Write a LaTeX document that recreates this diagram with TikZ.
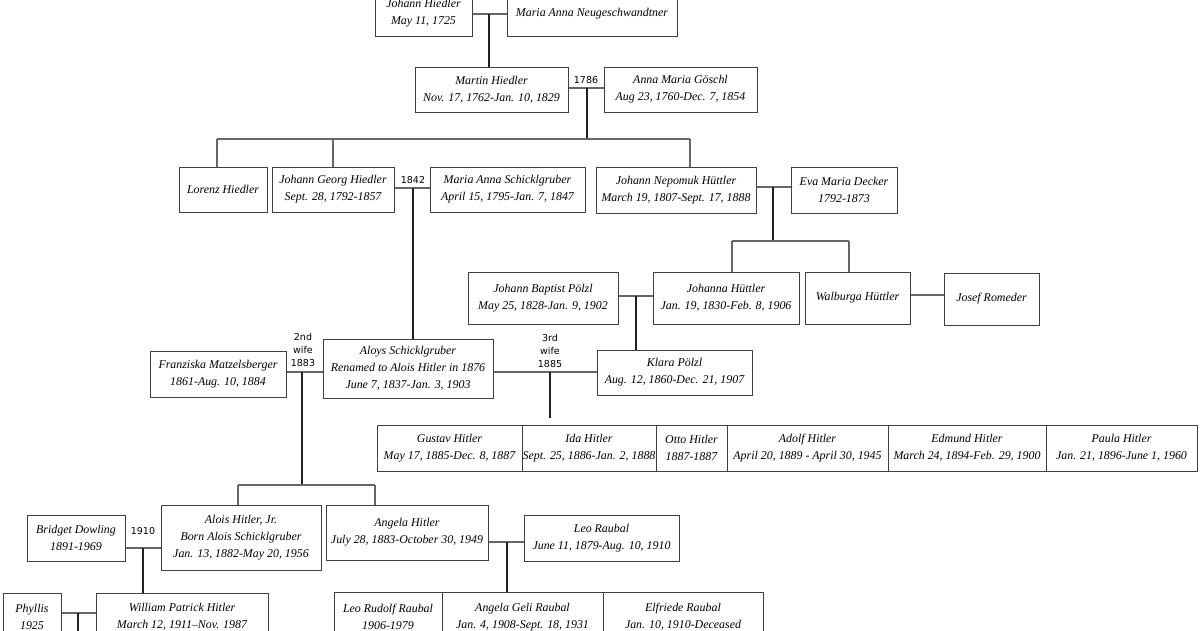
\documentclass[tikz,border=0pt]{standalone}
\usepackage{fontspec}
\setmainfont{Liberation Serif}
\newfontfamily\labfont{DejaVu Sans}
\newcommand\pfont{\itshape\fontsize{11.9}{17}\selectfont}
\newcommand\pbox[6]{\node[person, minimum width={(#4-#2)*1pt}, minimum height={(#5-#3)*1pt}] (#1) at ({(#2+#4)/2},{(#3+#5)/2}) {#6};}
\begin{document}
\begin{tikzpicture}[x=1pt,y=-1pt,
 person/.style={draw=black!75, line width=1pt, fill=white, inner sep=0pt, align=center, font=\pfont},
 hline/.style={draw=black!60, line width=1.1pt},
 vline/.style={draw=black!88, line width=1.1pt},
 lab/.style={font=\labfont\fontsize{9.5}{12.8}\selectfont, align=center, inner sep=0pt}]
\useasboundingbox (0,0) rectangle (1200,630);
\clip (0,0) rectangle (1200,630);
\fill[white] (0,0) rectangle (1200,630);

% ---- generation 1
\pbox{jh}{375}{-9}{472}{36}{Johann Hiedler\\May 11, 1725}
\pbox{mang}{507}{-9}{677}{36}{Maria Anna Neugeschwandtner}
\pbox{martin}{415}{67}{568}{112}{Martin Hiedler\\Nov. 17, 1762-Jan. 10, 1829}
\pbox{anna}{604}{67}{757}{112}{Anna Maria Göschl\\Aug 23, 1760-Dec. 7, 1854}

% ---- generation 3
\pbox{lorenz}{179}{167}{267}{212}{Lorenz Hiedler}
\pbox{jgh}{272}{167}{394}{212}{Johann Georg Hiedler\\Sept. 28, 1792-1857}
\pbox{mas}{430}{167}{585}{212}{Maria Anna Schicklgruber\\April 15, 1795-Jan. 7, 1847}
\pbox{jnh}{596}{167}{756}{213}{Johann Nepomuk Hüttler\\March 19, 1807-Sept. 17, 1888}
\pbox{eva}{791}{167}{897}{213}{Eva Maria Decker\\1792-1873}

% ---- generation 4
\pbox{jbp}{468}{272}{618}{324}{Johann Baptist Pölzl\\May 25, 1828-Jan. 9, 1902}
\pbox{johanna}{653}{272}{799}{324}{Johanna Hüttler\\Jan. 19, 1830-Feb. 8, 1906}
\pbox{walburga}{805}{272}{910}{324}{Walburga Hüttler}
\pbox{josef}{944}{273}{1039}{325}{Josef Romeder}

% ---- generation 5
\pbox{franz}{150}{351}{286}{397}{Franziska Matzelsberger\\1861-Aug. 10, 1884}
\pbox{aloys}{323}{339}{493}{398}{Aloys Schicklgruber\\Renamed to Alois Hitler in 1876\\June 7, 1837-Jan. 3, 1903}
\pbox{klara}{597}{350}{752}{395}{Klara Pölzl\\Aug. 12, 1860-Dec. 21, 1907}

% ---- children of Alois and Klara
\pbox{gustav}{377}{425}{522}{471}{Gustav Hitler\\May 17, 1885-Dec. 8, 1887}
\pbox{ida}{522}{425}{656}{471}{Ida Hitler\\Sept. 25, 1886-Jan. 2, 1888}
\pbox{otto}{656}{425}{727}{471}{Otto Hitler\\1887-1887}
\pbox{adolf}{727}{425}{888}{471}{Adolf Hitler\\April 20, 1889 - April 30, 1945}
\pbox{edmund}{888}{425}{1046}{471}{Edmund Hitler\\March 24, 1894-Feb. 29, 1900}
\pbox{paula}{1046}{425}{1197}{471}{Paula Hitler\\Jan. 21, 1896-June 1, 1960}

% ---- children of Alois and Franziska
\pbox{bridget}{27}{515}{125}{561}{Bridget Dowling\\1891-1969}
\pbox{aloisjr}{161}{505}{321}{570}{Alois Hitler, Jr.\\Born Alois Schicklgruber\\Jan. 13, 1882-May 20, 1956}
\pbox{angela}{326}{505}{488}{560}{Angela Hitler\\July 28, 1883-October 30, 1949}
\pbox{leo}{524}{515}{679}{561}{Leo Raubal\\June 11, 1879-Aug. 10, 1910}

% ---- bottom row
\pbox{phyllis}{3}{593}{61}{640}{Phyllis\\1925}
\pbox{william}{96}{593}{268}{640}{William Patrick Hitler\\March 12, 1911--Nov. 1987}
\pbox{leorudolf}{334}{592}{442}{642}{Leo Rudolf Raubal\\1906-1979}
\pbox{geli}{442}{592}{603}{642}{Angela Geli Raubal\\Jan. 4, 1908-Sept. 18, 1931}
\pbox{elfriede}{603}{592}{763}{642}{Elfriede Raubal\\Jan. 10, 1910-Deceased}

% ---- connectors
\coordinate (j1) at (489,14);
\draw[hline] (jh.east |- j1) -- (mang.west |- j1);
\draw[vline] (j1) -- (martin.north -| j1);

\coordinate (j2) at (587,88);
\draw[hline] (martin.east |- j2) -- (anna.west |- j2);
\node[lab] (l1786) at (586,80) {1786};
\coordinate (b1) at (587,139);
\draw[vline] (j2) -- (b1);
\coordinate (b1l) at (217,139);
\coordinate (b1m) at (333,139);
\coordinate (b1r) at (690,139);
\draw[hline] (b1l) -- (b1r);
\draw[hline] (b1l) -- (lorenz.north -| b1l);
\draw[hline] (b1m) -- (jgh.north -| b1m);
\draw[hline] (b1r) -- (jnh.north -| b1r);

\coordinate (j3) at (413,188);
\draw[hline] (jgh.east |- j3) -- (mas.west |- j3);
\node[lab] (l1842) at (413,180) {1842};
\draw[vline] (j3) -- (aloys.north -| j3);

\coordinate (j4) at (773,187);
\draw[hline] (jnh.east |- j4) -- (eva.west |- j4);
\coordinate (b2) at (773,241);
\draw[vline] (j4) -- (b2);
\coordinate (b2l) at (732,241);
\coordinate (b2r) at (849,241);
\draw[hline] (b2l) -- (b2r);
\draw[hline] (b2l) -- (johanna.north -| b2l);
\draw[hline] (b2r) -- (walburga.north -| b2r);

\coordinate (j5) at (636,296);
\draw[hline] (jbp.east |- j5) -- (johanna.west |- j5);
\draw[vline] (j5) -- (klara.north -| j5);
\coordinate (j5b) at (927,295);
\draw[hline] (walburga.east |- j5b) -- (josef.west |- j5b);

\coordinate (j6) at (302,372);
\draw[hline] (franz.east |- j6) -- (aloys.west |- j6);
\node[lab] (l1883) at (303,350) {2nd\\wife\\1883};
\coordinate (j7) at (550,372);
\draw[hline] (aloys.east |- j7) -- (klara.west |- j7);
\node[lab] (l1885) at (550,351) {3rd\\wife\\1885};
\coordinate (j7e) at (550,418);
\draw[vline] (j7) -- (j7e);

\coordinate (b3) at (302,485);
\draw[vline] (j6) -- (b3);
\coordinate (b3l) at (238,485);
\coordinate (b3r) at (375,485);
\draw[hline] (b3l) -- (b3r);
\draw[hline] (b3l) -- (aloisjr.north -| b3l);
\draw[hline] (b3r) -- (angela.north -| b3r);

\coordinate (j8) at (143,548);
\draw[hline] (bridget.east |- j8) -- (aloisjr.west |- j8);
\node[lab] (l1910) at (143,531) {1910};
\draw[vline] (j8) -- (william.north -| j8);

\coordinate (j9) at (507,542);
\draw[hline] (angela.east |- j9) -- (leo.west |- j9);
\draw[vline] (j9) -- (geli.north -| j9);

\coordinate (j10) at (78,613);
\coordinate (j10e) at (78,640);
\draw[hline] (phyllis.east |- j10) -- (william.west |- j10);
\draw[vline] (j10) -- (j10e);
\end{tikzpicture}
\end{document}
